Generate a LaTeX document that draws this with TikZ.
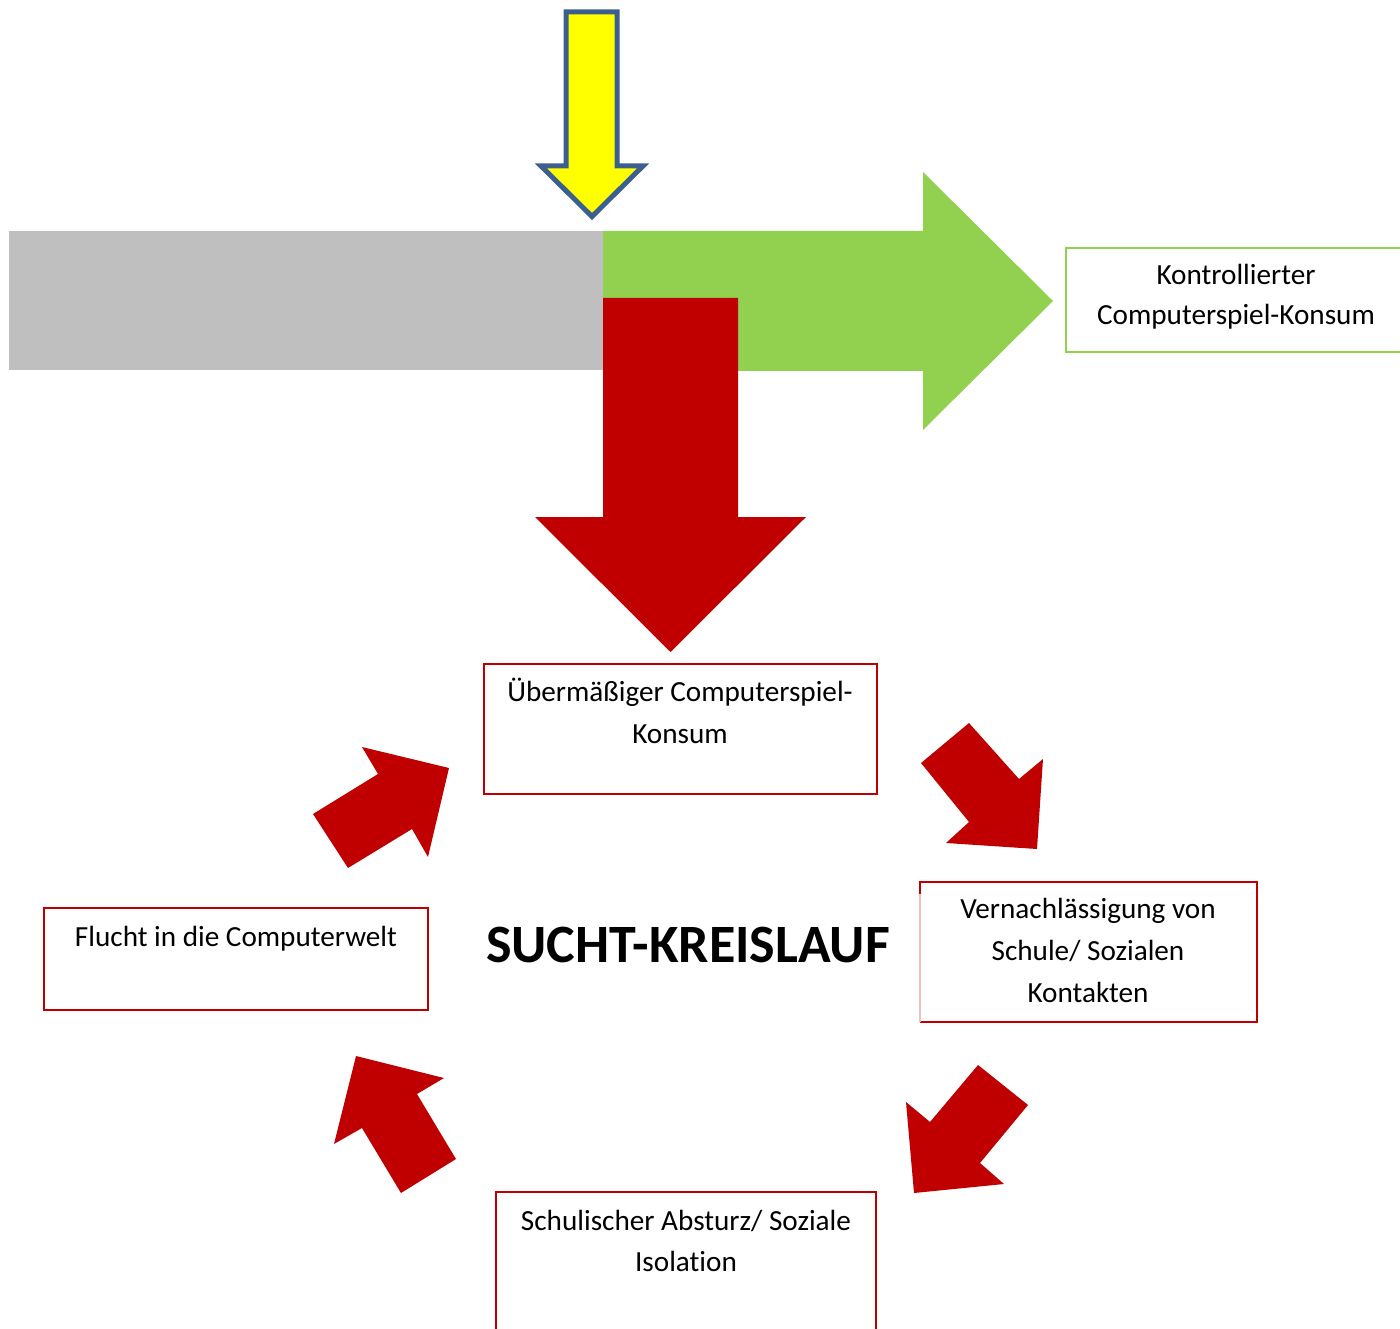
\documentclass[tikz,border=0pt]{standalone}
\usepackage{fontspec}
\setmainfont{Carlito}[Ligatures=NoCommon]
\definecolor{grn}{HTML}{92D050}
\definecolor{rd}{HTML}{C00000}
\definecolor{gry}{HTML}{BFBFBF}
\definecolor{ylw}{HTML}{FFFF00}
\definecolor{blu}{HTML}{3C5F8E}
\begin{document}
\begin{tikzpicture}[x=1pt,y=-1pt,
  txt/.style={font=\fontsize{29.2}{34}\selectfont, anchor=base, inner sep=0pt},
  redbox/.style={draw=rd, line width=1.8pt, inner sep=0pt, rectangle},
  greenbox/.style={draw=grn, line width=1.8pt, inner sep=0pt, rectangle},
  bigarrow/.style={line join=miter}]
\useasboundingbox (0,0) rectangle (1400,1329);
\clip (0,0) rectangle (1400,1329);
% gray bar and green arrow
\fill[gry] (9,231) rectangle (604,370);
\fill[grn] (603,231) -- (923,231) -- (923,172) -- (1053,301) -- (923,430) -- (923,371) -- (603,371) -- cycle;
% red arrow
\fill[rd] (603,298) -- (738,298) -- (738,517) -- (806,517) -- (670.5,652) -- (535,517) -- (603,517) -- cycle;
% yellow arrow
\draw[blu, line width=5pt, fill=ylw, bigarrow] (566,12) -- (617,12) -- (617,166) -- (643,166) -- (592,216.5) -- (541,166) -- (566,166) -- cycle;
% small red arrows
\fill[rd] (921,763) -- (969,723) -- (1019,779) -- (1043,759) -- (1037,849) -- (946,843) -- (969,822) -- cycle;
\fill[rd] (978,1065) -- (1028,1105) -- (980,1163) -- (1004,1184) -- (914,1193) -- (906,1102) -- (930,1122) -- cycle;
\fill[rd] (313,814) -- (378,774) -- (362,747) -- (449,768) -- (428,857) -- (412,829) -- (348,868) -- cycle;
\fill[rd] (356,1056) -- (444,1078) -- (417,1094) -- (456,1159) -- (401,1193) -- (362,1128) -- (334,1144) -- cycle;
% boxes
\node[greenbox, minimum width=346pt, minimum height=104pt] (k) at (1239,300) {};
\node[redbox, minimum width=393pt, minimum height=130pt] (u) at (680.5,729) {};
\node[draw=none, inner sep=0pt, minimum width=337pt, minimum height=140pt] (v) at (1088.5,952) {};
\draw[rd, line width=1.8pt] ([yshift=-12pt]v.north west) -- (v.north west) -- (v.north east) -- (v.south east) -- (v.south west);
\draw[rd!25, line width=1.8pt] ([yshift=-12pt]v.north west) -- (v.south west);
\node[redbox, minimum width=384pt, minimum height=102pt] (f) at (236,959) {};
\node[redbox, minimum width=380pt, minimum height=153pt] (s) at (686,1268.5) {};
% texts
\node[txt] (k1) at (1236,285) {Kontrollierter};
\node[txt] (k2) at (1236,325) {Computerspiel-Konsum};
\node[txt] (u1) at (680,701) {Übermäßiger Computerspiel-};
\node[txt] (u2) at (680,743) {Konsum};
\node[txt] (v1) at (1088,918) {Vernachlässigung von};
\node[txt] (v2) at (1088,960) {Schule/ Sozialen};
\node[txt] (v3) at (1088,1002) {Kontakten};
\node[txt] (f1) at (236,946) {Flucht in die Computerwelt};
\node[txt] (s1) at (686,1230) {Schulischer Absturz/ Soziale};
\node[txt] (s2) at (686,1271) {Isolation};
\node[font=\bfseries\fontsize{54}{60}\selectfont, anchor=base, inner sep=0pt] (title) at (688,962) {SUCHT-KREISLAUF};
\end{tikzpicture}
\end{document}
